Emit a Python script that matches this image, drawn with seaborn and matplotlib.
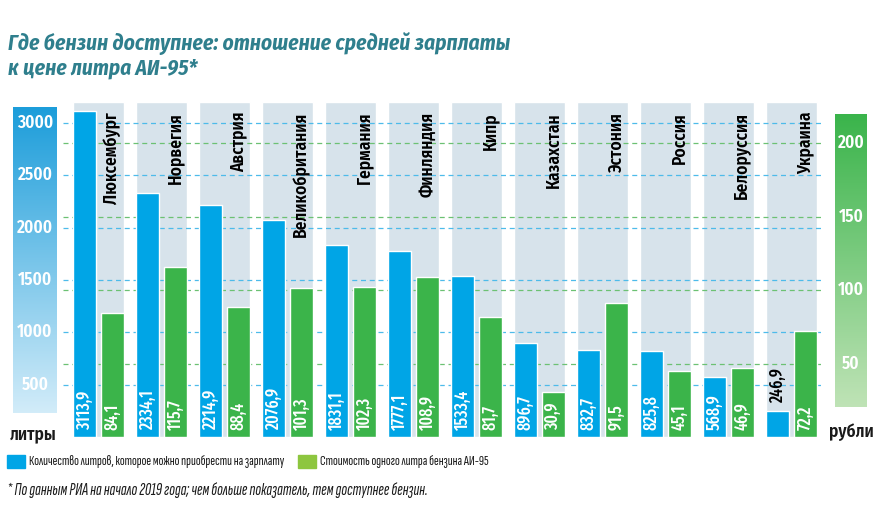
import numpy as np
import pandas as pd
import matplotlib
matplotlib.use('Agg')
import matplotlib.pyplot as plt
import seaborn as sns
from matplotlib.colors import LinearSegmentedColormap
from matplotlib.transforms import blended_transform_factory
from matplotlib.patches import Rectangle

# data
countries = ['Люксембург', 'Норвегия', 'Австрия', 'Великобритания', 'Германия', 'Финляндия',
             'Кипр', 'Казахстан', 'Эстония', 'Россия', 'Белоруссия', 'Украина']
liters = [3113.9, 2334.1, 2214.9, 2076.9, 1831.1, 1777.1, 1533.4, 896.7, 832.7, 825.8, 568.9, 246.9]
price = [84.1, 115.7, 88.4, 101.3, 102.3, 108.9, 81.7, 30.9, 91.5, 45.1, 46.9, 72.2]
liter_ticks = [500, 1000, 1500, 2000, 2500, 3000]
price_ticks = [50, 100, 150, 200]

BLUE = '#00a5e6'
GREEN = '#3bb44a'
COLBG = '#d7e3eb'
TITLE = '#2f7f8d'

sns.set_style('white')
plt.rcParams['font.family'] = ['Fira Sans Condensed', 'DejaVu Sans']
F_COND = ['Fira Sans Condensed', 'DejaVu Sans']
F_XCOND = ['Fira Sans Extra Condensed', 'DejaVu Sans']
F_NOTE = ['Sofia Sans Extra Condensed', 'Fira Sans Extra Condensed', 'DejaVu Sans']

W, H = 895, 524
fig = plt.figure(figsize=(W / 100, H / 100), dpi=100)

def fx(px):
    return px / W

def fy(py):
    return 1 - py / H

# main axes: x 63..823 px, y 102..437 px
ax = fig.add_axes([fx(63), fy(437), fx(760), 335 / H])
ax2 = ax.twinx()
L_MAX, R_MAX = 3200, 228

df = pd.DataFrame({'country': countries, 'liters': liters, 'price': price})
df['pos'] = np.arange(len(df))
df['pos_l'] = df['pos'] - 0.22
df['pos_r'] = df['pos'] + 0.22

# grey column backgrounds
ax.bar(df['pos'], L_MAX, width=0.81, color=COLBG, zorder=0)

# dashed gridlines
tr_l = blended_transform_factory(ax.transAxes, ax.transData)
tr_r = blended_transform_factory(ax.transAxes, ax2.transData)
for t in liter_ticks:
    ax.plot([0, 1], [t, t], transform=tr_l, color='#4dbbea', lw=0.9,
            ls=(0, (4, 3)), zorder=1)
for t in price_ticks:
    ax.plot([0, 1], [t, t], transform=tr_r, color='#6cc173', lw=0.9,
            ls=(0, (4, 3)), zorder=1)

sns.barplot(data=df, x='pos_l', y='liters', native_scale=True, width=0.37,
            color=BLUE, saturation=1, errorbar=None, ax=ax, zorder=2)
sns.barplot(data=df, x='pos_r', y='price', native_scale=True, width=0.37,
            color=GREEN, saturation=1, errorbar=None, ax=ax2, zorder=2)

for a, top in ((ax, L_MAX), (ax2, R_MAX)):
    a.set_xlim(-0.563, 11.5)
    a.set_ylim(0, top)
    a.set_xticks([])
    a.set_yticks([])
    a.set_xlabel('')
    a.set_ylabel('')
    for s in a.spines.values():
        s.set_visible(False)

# value labels and country names
k = L_MAX / R_MAX
for i, row in df.iterrows():
    lv = f"{row['liters']:.1f}".replace('.', ',')
    pv = f"{row['price']:.1f}".replace('.', ',')
    if row['liters'] < 500:
        ax.text(row['pos_l'], row['liters'] + 80, lv, rotation=90, ha='center', va='bottom',
                color='black', fontsize=12.5, family=F_XCOND, fontweight='medium', zorder=5)
    else:
        ax.text(row['pos_l'], 67, lv, rotation=90, ha='center', va='bottom',
                color='white', fontsize=12.5, family=F_XCOND, fontweight='medium', zorder=5)
    ax2.text(row['pos_r'], 67 / k, pv, rotation=90, ha='center', va='bottom',
             color='white', fontsize=12.5, family=F_XCOND, fontweight='medium', zorder=5)
    ax.text(row['pos_r'], 3105, row['country'], rotation=90, ha='center', va='top',
            color='black', fontsize=12.5, family=F_COND, fontweight='semibold', zorder=5)

# gradient scale bars
lcmap = LinearSegmentedColormap.from_list('lb', ['#d2ecf9', '#1c9dda'])
gcmap = LinearSegmentedColormap.from_list('gb', ['#bfe3b6', '#3ab44b'])
grad = np.linspace(0, 1, 256).reshape(-1, 1)

axl = fig.add_axes([fx(13), fy(437), fx(44), 335 / H])
axl.imshow(grad, cmap=lcmap, origin='lower', aspect='auto',
           extent=[0, 1, (437 - 413) / 335 * L_MAX, (437 - 107) / 335 * L_MAX])
axl.set_xlim(0, 1)
axl.set_ylim(0, L_MAX)
axl.axis('off')
for t in liter_ticks:
    axl.text(0.5, t, str(t), ha='center', va='center', color='white',
             fontsize=12.5, family=F_COND, fontweight='semibold')

axr = fig.add_axes([fx(835), fy(437), fx(32), 335 / H])
axr.imshow(grad, cmap=gcmap, origin='lower', aspect='auto',
           extent=[0, 1, (437 - 407) / 335 * R_MAX, (437 - 114) / 335 * R_MAX])
axr.set_xlim(0, 1)
axr.set_ylim(0, R_MAX)
axr.axis('off')
for t in price_ticks:
    axr.text(0.5, t, str(t), ha='center', va='center', color='white',
             fontsize=12.5, family=F_COND, fontweight='semibold')

fig.text(fx(33), fy(434), 'литры', ha='center', va='center', fontsize=12.5,
         family=F_COND, fontweight='semibold', color='#1a1a1a')
fig.text(fx(851), fy(432), 'рубли', ha='center', va='center', fontsize=12.5,
         family=F_COND, fontweight='semibold', color='#1a1a1a')

# title
for txt, py in (('Где бензин доступнее: отношение средней зарплаты', 44),
                ('к цене литра АИ-95*', 68)):
    fig.text(fx(8), fy(py), txt, ha='left', va='center', fontsize=15.4, family=F_COND,
             fontweight='bold', style='italic', color=TITLE)

# legend
fig.patches.append(Rectangle((fx(7), fy(468)), fx(18), 13 / H, transform=fig.transFigure,
                             color='#00a5e6'))
fig.text(fx(29), fy(462), 'Количество литров, которое можно приобрести на зарплату',
         ha='left', va='center', fontsize=10.4, family=F_NOTE, fontweight='medium',
         color='#1a1a1a')
fig.patches.append(Rectangle((fx(298), fy(468)), fx(18), 13 / H, transform=fig.transFigure,
                             color='#8dc63f'))
fig.text(fx(320), fy(462), 'Стоимость одного литра бензина АИ-95',
         ha='left', va='center', fontsize=10.4, family=F_NOTE, fontweight='medium',
         color='#1a1a1a')
fig.text(fx(7), fy(490), '* По данным РИА на начало 2019 года; чем больше показатель, тем доступнее бензин.',
         ha='left', va='center', fontsize=12.5, family=F_NOTE, style='italic', color='#1a1a1a')

fig.savefig('out.png', dpi=100)
